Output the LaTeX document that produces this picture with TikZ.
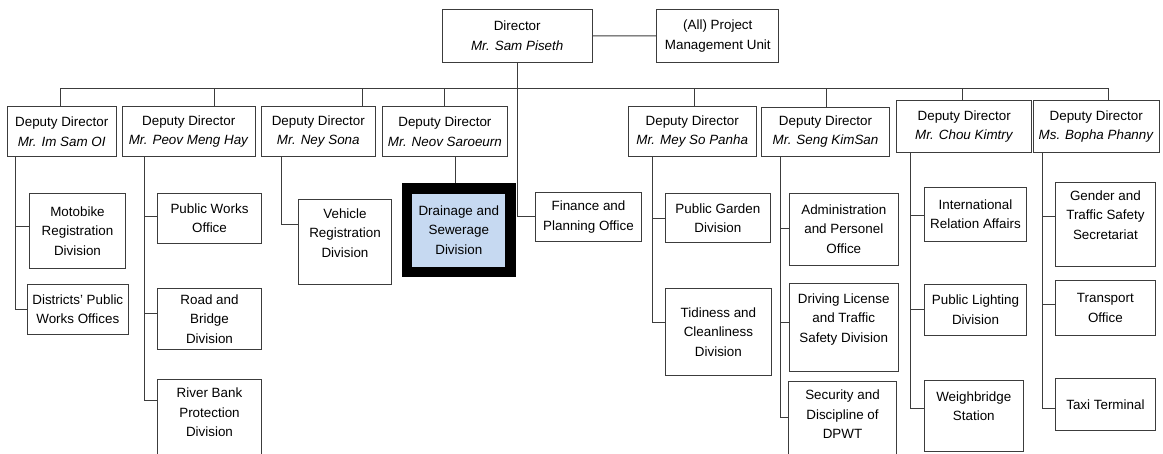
\documentclass[tikz,border=0pt]{standalone}
\usepackage{fontspec}
\setmainfont{Liberation Sans}
\definecolor{lineclr}{RGB}{60,60,60}
\definecolor{highlight}{RGB}{198,217,241}
\begin{document}
\begin{tikzpicture}[x=1pt, y=-1pt,
  unit/.style={draw=lineclr, line width=1pt, rectangle, align=center, inner sep=0pt,
    font=\fontsize{13.4}{19.5}\selectfont, text=black},
  link/.style={draw=lineclr, line width=1pt},
  focus/.style={unit, draw=black, fill=highlight, line width=10.5pt}]
\useasboundingbox (0,0) rectangle (1163,454);
\clip (0,0) rectangle (1163,454);

% Director and project unit
\node[unit, minimum width=150.3, minimum height=53] (dir) at (517.2,35.8) {Director\\\textit{Mr. Sam Piseth}};
\node[unit, minimum width=122.3, minimum height=52.6] (pmu) at (717.8,36) {(All) Project\\Management Unit};

% Deputy directors
\node[unit, minimum width=108.7, minimum height=50] (d1) at (61.7,131.7) {Deputy Director\\\textit{Mr. Im Sam OI}};
\node[unit, minimum width=132.7, minimum height=50] (d2) at (188.7,131.7) {Deputy Director\\\textit{Mr. Peov Meng Hay}};
\node[unit, minimum width=114, minimum height=50] (d3) at (318.3,131.7) {Deputy Director\\\textit{Mr. Ney Sona}};
\node[unit, minimum width=124.8, minimum height=50] (d4) at (444.9,131.7) {Deputy Director\\\textit{Mr. Neov Saroeurn}};
\node[unit, minimum width=127.7, minimum height=50] (d5) at (692.2,131.7) {Deputy Director\\\textit{Mr. Mey So Panha}};
\node[unit, minimum width=127.6, minimum height=48.7] (d6) at (825.5,131.7) {Deputy Director\\\textit{Mr. Seng KimSan}};
\node[unit, minimum width=135, minimum height=52] (d7) at (964.2,126.7) {Deputy Director\\\textit{Mr. Chou Kimtry}};
\node[unit, minimum width=125.7, minimum height=52] (d8) at (1096.2,126.7) {Deputy Director\\\textit{Ms. Bopha Phanny}};

% Divisions and offices
\node[unit, minimum width=96.4, minimum height=75] (m1) at (77.5,230.8) {Motobike\\Registration\\Division};
\node[unit, minimum width=101, minimum height=50] (m2) at (77.8,309.3) {Districts' Public\\Works Offices};

\node[unit, minimum width=104.4, minimum height=50] (p1) at (209.5,218.3) {Public Works\\Office};
\node[unit, minimum width=104.4, minimum height=61] (p2) at (209.5,318.8) {Road and\\Bridge\\Division};
\node[unit, minimum width=104.4, minimum height=85.7] (p3) at (209.5,422.2) {River Bank\\Protection\\Division\\\mbox{}};

\node[unit, minimum width=93.4, minimum height=85] (n1) at (345,242.5) {Vehicle\\Registration\\Division\\\mbox{}};

\node[focus, minimum width=103.5, minimum height=83.7] (dr) at (458.8,230.2) {Drainage and\\Sewerage\\Division};

\node[unit, minimum width=106.4, minimum height=49.7] (fin) at (588.5,216.9) {Finance and\\Planning Office};

\node[unit, minimum width=105.7, minimum height=49.4] (g1) at (717.9,218) {Public Garden\\Division};
\node[unit, minimum width=106.7, minimum height=87.7] (g2) at (718.4,331.9) {Tidiness and\\Cleanliness\\Division};

\node[unit, minimum width=109, minimum height=71.7] (s1) at (843.8,229.2) {Administration\\and Personel\\Office};
\node[unit, minimum width=108.7, minimum height=88.4] (s2) at (843.7,327.5) {Driving License\\and Traffic\\Safety Division\\\mbox{}};
\node[unit, minimum width=108.4, minimum height=84.3] (s3) at (842.5,423.9) {Security and\\Discipline of\\DPWT\\\mbox{}};

\node[unit, minimum width=102.4, minimum height=53.3] (c1) at (975.5,214.4) {International\\Relation Affairs};
\node[unit, minimum width=102.4, minimum height=50.7] (c2) at (975.5,309.7) {Public Lighting\\Division};
\node[unit, minimum width=99, minimum height=71.7] (c3) at (973.8,415.9) {Weighbridge\\Station\\\mbox{}};

\node[unit, minimum width=99.3, minimum height=84] (t1) at (1105.4,224.7) {Gender and\\Traffic Safety\\Secretariat\\\mbox{}};
\node[unit, minimum width=99.3, minimum height=55.7] (t2) at (1105.4,307.9) {Transport\\Office};
\node[unit, minimum width=99.3, minimum height=52.4] (t3) at (1105.4,404.5) {Taxi Terminal};

% Bus line under the director
\coordinate (bus1) at (60.7,88.3);
\coordinate (bus2) at (214.3,88.3);
\coordinate (bus3) at (362.3,88.3);
\coordinate (bus4) at (444.3,88.3);
\coordinate (bus5) at (694.3,88.3);
\coordinate (bus6) at (826.7,88.3);
\coordinate (bus7) at (962.3,88.3);
\coordinate (bus8) at (1108.3,88.3);
\draw[link] (bus1) -- (bus8);
\foreach \b/\d in {bus1/d1, bus2/d2, bus3/d3, bus4/d4, bus5/d5, bus6/d6, bus7/d7, bus8/d8}
  \draw[link] (\b) -- (\b |- \d.north);

% Director links
\draw[link] (dir.east) -- (pmu.west);
\draw[link] (dir.south) |- (fin.west);

% Branches under each deputy
\draw[link] (d1.south -| 15.7,0) |- (m1.west |- 0,226.7);
\draw[link] (d1.south -| 15.7,0) |- (m2.west |- 0,310);

\draw[link] (d2.south -| 144.3,0) |- (p1.west |- 0,216.7);
\draw[link] (d2.south -| 144.3,0) |- (p2.west |- 0,313.3);
\draw[link] (d2.south -| 144.3,0) |- (p3.west |- 0,401);

\draw[link] (d3.south -| 281.7,0) |- (n1.west |- 0,224.3);

\draw[link] (d4.south -| 455,0) -- (dr.north -| 455,0);

\draw[link] (d5.south -| 652.3,0) |- (g1.west |- 0,219);
\draw[link] (d5.south -| 652.3,0) |- (g2.west |- 0,322.7);

\draw[link] (d6.south -| 780.7,0) |- (s1.west |- 0,228.3);
\draw[link] (d6.south -| 780.7,0) |- (s2.west |- 0,322.3);
\draw[link] (d6.south -| 780.7,0) |- (s3.west |- 0,417.3);

\draw[link] (d7.south -| 910,0) |- (c1.west |- 0,216);
\draw[link] (d7.south -| 910,0) |- (c2.west |- 0,310);
\draw[link] (d7.south -| 910,0) |- (c3.west |- 0,408.3);

\draw[link] (d8.south -| 1042.7,0) |- (t1.west |- 0,216.7);
\draw[link] (d8.south -| 1042.7,0) |- (t2.west |- 0,304.3);
\draw[link] (d8.south -| 1042.7,0) |- (t3.west |- 0,408.3);
\end{tikzpicture}
\end{document}
